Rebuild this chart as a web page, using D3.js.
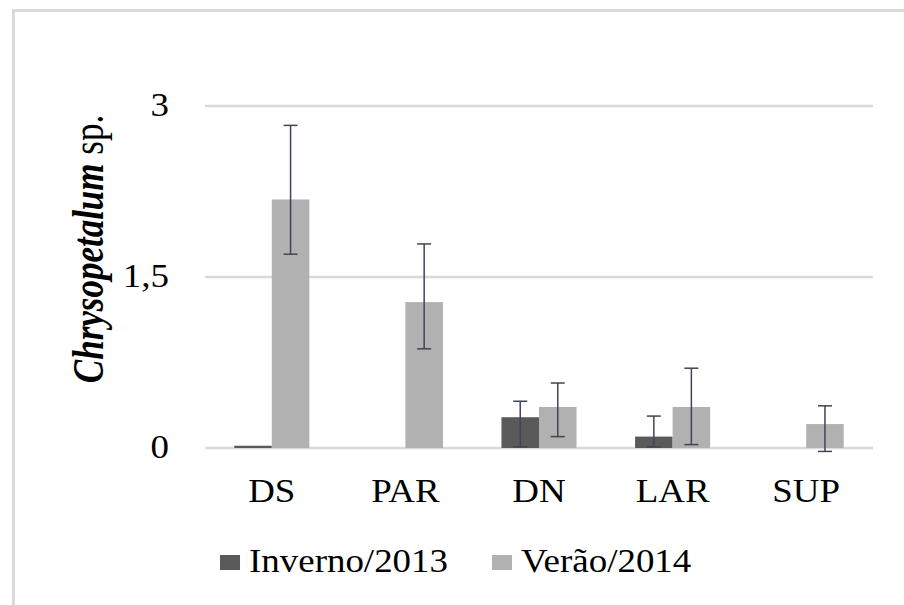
<html>
<head>
<meta charset="utf-8">
<script src="https://d3js.org/d3.v7.min.js"></script>
<style>
body { margin: 0; background: #fff; }
svg { display: block; font-family: "Liberation Serif", "Times New Roman", serif; }
</style>
</head>
<body>
<svg width="904" height="605"></svg>
<script>
  // data
  var categories = ["DS", "PAR", "DN", "LAR", "SUP"];
  var series = ["Inverno/2013", "Verão/2014"];
  var inverno = [0.02, 0, 0.27, 0.10, 0];
  var invernoLow = [null, null, 0.01, 0.01, null];
  var invernoHigh = [null, null, 0.41, 0.28, null];
  var verao = [2.18, 1.28, 0.36, 0.36, 0.21];
  var veraoLow = [1.70, 0.87, 0.10, 0.03, -0.03];
  var veraoHigh = [2.83, 1.79, 0.57, 0.70, 0.37];
  var yTicks = [0, 1.5, 3];

  var colors = {"Inverno/2013": "#5a5a5a", "Verão/2014": "#b1b1b1"};
  var sx = 1.12; // the picture is stretched a bit horizontally

  var svg = d3.select("svg");

  // outer frame
  svg.append("path")
    .attr("d", "M13.5,605 L13.5,10.5 L904,10.5")
    .attr("fill", "none")
    .attr("stroke", "#d9d9d9")
    .attr("stroke-width", 3);

  var x0 = d3.scaleBand().domain(categories).range([205, 873]);
  var x1 = d3.scaleBand().domain(series).range([0, x0.bandwidth()]).paddingOuter(0.78);
  var y = d3.scaleLinear().domain([0, 3]).range([448, 106]);

  // gridlines
  svg.append("g").selectAll("line")
    .data(yTicks)
    .enter().append("line")
    .attr("x1", 205).attr("x2", 873)
    .attr("y1", d => y(d)).attr("y2", d => y(d))
    .attr("stroke", "#d9d9d9")
    .attr("stroke-width", 2.5);

  // y tick labels
  svg.append("g").selectAll("g")
    .data(yTicks)
    .enter().append("g")
    .attr("transform", d => "translate(169," + (y(d) + 10) + ") scale(" + sx + ",1)")
    .append("text")
    .attr("text-anchor", "end")
    .attr("font-size", 33)
    .attr("fill", "#000")
    .text(d => String(d).replace(".", ","));

  // rows for bars
  var rows = [];
  categories.forEach(function(c, i) {
    rows.push({cat: c, s: series[0], v: inverno[i], lo: invernoLow[i], hi: invernoHigh[i]});
    rows.push({cat: c, s: series[1], v: verao[i], lo: veraoLow[i], hi: veraoHigh[i]});
  });

  svg.append("g").selectAll("rect")
    .data(rows.filter(d => d.v > 0))
    .enter().append("rect")
    .attr("x", d => x0(d.cat) + x1(d.s))
    .attr("width", x1.bandwidth())
    .attr("y", d => y(d.v))
    .attr("height", d => Math.max(1.5, y(0) - y(d.v)))
    .attr("fill", d => colors[d.s]);

  // error bars
  var eb = svg.append("g")
    .attr("stroke", "#3f4552")
    .attr("stroke-width", 1.5)
    .selectAll("g")
    .data(rows.filter(d => d.lo != null))
    .enter().append("g")
    .attr("transform", d => "translate(" + (x0(d.cat) + x1(d.s) + x1.bandwidth() / 2) + ",0)");
  eb.append("line").attr("y1", d => y(d.lo)).attr("y2", d => y(d.hi));
  eb.append("line").attr("x1", -7).attr("x2", 7).attr("y1", d => y(d.hi)).attr("y2", d => y(d.hi));
  eb.append("line").attr("x1", -7).attr("x2", 7).attr("y1", d => y(d.lo)).attr("y2", d => y(d.lo));

  // category labels
  svg.append("g").selectAll("g")
    .data(categories)
    .enter().append("g")
    .attr("transform", d => "translate(" + (x0(d) + x0.bandwidth() / 2) + ",502) scale(" + sx + ",1)")
    .append("text")
    .attr("text-anchor", "middle")
    .attr("font-size", 33)
    .attr("fill", "#000")
    .text(d => d);

  // y axis title
  var title = svg.append("g")
    .attr("transform", "translate(103,249) scale(1.25,1) rotate(-90)")
    .append("text")
    .attr("text-anchor", "middle")
    .attr("font-size", 35)
    .attr("fill", "#000");
  title.append("tspan").attr("font-style", "italic").attr("font-weight", "bold").text("Chrysopetalum");
  title.append("tspan").text(" sp.");

  // legend
  var lx = 220;
  series.forEach(function(s) {
    svg.append("rect")
      .attr("x", lx).attr("y", 555)
      .attr("width", 20).attr("height", 15)
      .attr("fill", colors[s]);
    var t = svg.append("g")
      .attr("transform", "translate(" + (lx + 29) + ",572) scale(" + sx + ",1)")
      .append("text")
      .attr("font-size", 33)
      .attr("fill", "#000")
      .text(s);
    lx = lx + 29 + t.node().getComputedTextLength() * sx + 44;
  });
</script>
</body>
</html>
